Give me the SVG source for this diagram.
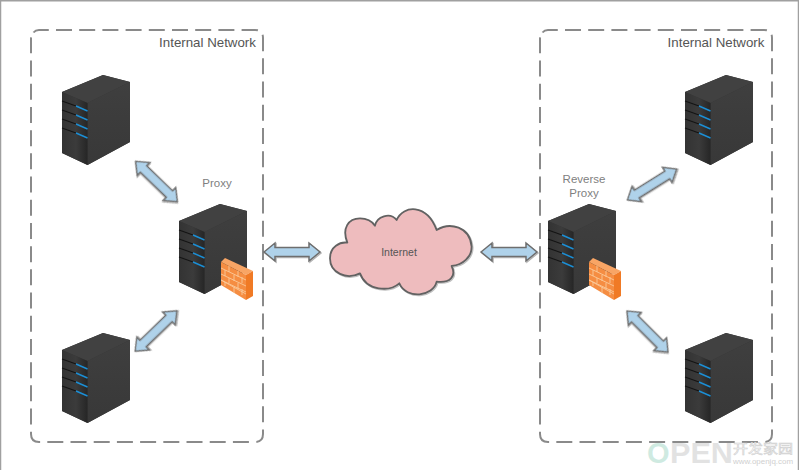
<svg xmlns="http://www.w3.org/2000/svg" width="799" height="470" viewBox="0 0 799 470">
<style>
.frame{fill:none;stroke:#8a8a8a;stroke-width:2;stroke-dasharray:16 7.2}
.t{font-family:"Liberation Sans",Arial,sans-serif;font-size:11.500px;text-anchor:middle}
.net{font-size:13.300px;fill:#555}
.dark{fill:#555;font-size:10.500px}
.grey{fill:#808080}
.arrow{fill:#afd2ea;stroke:#6e6e6e;stroke-width:1.500;filter:url(#shadow)}
.cloud{fill:#eebcbe;stroke:#626262;stroke-width:5.500;stroke-linejoin:round;filter:url(#shadow3)}
.slot{stroke:#141414;stroke-width:1.200}
.led{stroke:#1b8fd6;stroke-width:1.400}
.brick{fill:none;stroke:#fbc99a;stroke-width:.9}
.wm{font-family:"Liberation Sans",Arial,sans-serif;font-weight:700;font-size:29px;fill-opacity:.88}
.wmc{font-family:"Noto Sans CJK SC",sans-serif;font-size:13px;fill:#fff;stroke:#cfcfcf;stroke-width:.6}
.wms{font-family:"Liberation Sans",Arial,sans-serif;font-size:7px;fill:#cfcfcf}
</style>
<defs>
<filter id="shadow" x="-20%" y="-40%" width="140%" height="180%"><feDropShadow dx="1" dy="1" stdDeviation=".6" flood-color="#000" flood-opacity=".3"/></filter>
<filter id="shadow3" x="-10%" y="-10%" width="120%" height="120%"><feDropShadow dx="3" dy="3" stdDeviation="1.500" flood-color="#000" flood-opacity=".25"/></filter>
<linearGradient id="front" x1="0" y1="0" x2="1" y2="0"><stop offset="0" stop-color="#333"/><stop offset=".55" stop-color="#3b3b3b"/><stop offset="1" stop-color="#262626"/></linearGradient>
<linearGradient id="side" x1="0" y1="0" x2="0" y2="1"><stop offset="0" stop-color="#3f3f3f"/><stop offset="1" stop-color="#383838"/></linearGradient>
<g id="server">
<polygon points="0,17 41,0 68,7 68,67 25.500,90 0,78" fill="#333"/>
<polygon points="0,17 41,0 68,7 25.500,28" fill="#414141"/>
<polygon points="25.500,28 68,7 68,67 25.500,90" fill="url(#side)"/>
<polygon points="0,17 25.500,28 25.500,90 0,78" fill="url(#front)"/>
<path class="slot" d="M0 26l14 5M0 35l14 5M0 44l14 5M0 53l14 5"/>
<path class="led" d="M14 31l11.500 5M14 40l11.500 5M14 49l11.500 5M14 58l11.500 5"/>
</g>
<g id="wall">
<polygon points="0,4 4,0 32,13 25,17" fill="#f8a565"/>
<polygon points="25,17 32,13 32,38 25,42" fill="#f07a25"/>
<polygon points="0,4 25,17 25,42 0,27" fill="#f58d42"/>
<path class="brick" d="M0 10l25 12M0 16l25 12M0 22l25 12M25 36l-25-14M8 8v6M17 13v6M4 12v6M13 17v6M21 19v6M8 20v5M17 25v6M4 24v4M13 29v6M21 31v6"/>
</g>
</defs>
<rect width="799" height="470" fill="#fff"/>
<path d="M.5 470V.75H798.500V470" fill="none" stroke="#a0a0a0" stroke-width="1.500"/>
<path class="frame" d="M33.500 32.500Q35.500 30 39 30H255Q263 30 263 38V434Q263 442 255 442H39Q31 442 31 434V38Q31 35 33.500 32.500Z"/>
<path class="frame" d="M542.500 32.500Q544.500 30 548 30H764Q772 30 772 38V434Q772 442 764 442H548Q540 442 540 434V38Q540 35 542.500 32.500Z"/>
<text class="t net" x="207.500" y="47">Internal Network</text>
<text class="t net" x="716" y="47">Internal Network</text>
<g id="connectors">
<polygon class="arrow" transform="translate(156.500 181.500) rotate(44)" points="-29,0 -18,-9 -18,-4.500 18,-4.500 18,-9 29,0 18,9 18,4.500 -18,4.500 -18,9"/>
<polygon class="arrow" transform="translate(156 331) rotate(-44)" points="-29,0 -18,-9 -18,-4.500 18,-4.500 18,-9 29,0 18,9 18,4.500 -18,4.500 -18,9"/>
<polygon class="arrow" transform="translate(292 252)" points="-28,0 -17,-9 -17,-4.500 17,-4.500 17,-9 28,0 17,9 17,4.500 -17,4.500 -17,9"/>
<polygon class="arrow" transform="translate(509 252)" points="-28,0 -17,-9 -17,-4.500 17,-4.500 17,-9 28,0 17,9 17,4.500 -17,4.500 -17,9"/>
<polygon class="arrow" transform="translate(652 184.500) rotate(-32)" points="-29,0 -18,-9 -18,-4.500 18,-4.500 18,-9 29,0 18,9 18,4.500 -18,4.500 -18,9"/>
<polygon class="arrow" transform="translate(647.500 331.500) rotate(45)" points="-29,0 -18,-9 -18,-4.500 18,-4.500 18,-9 29,0 18,9 18,4.500 -18,4.500 -18,9"/>
</g>
<g id="server-top-left"><use href="#server" x="62" y="75"/></g>
<g id="server-bottom-left"><use href="#server" x="62" y="333"/></g>
<g id="proxy"><use href="#server" x="179" y="204"/><use href="#wall" x="221" y="258"/><text class="t grey" x="217" y="187">Proxy</text></g>
<g id="internet">
<path class="cloud" transform="translate(260 190) scale(.3333)" d="M262 158C245 115 265 85 300 85C320 85 335 92 345 107C350 80 390 65 410 90C430 45 500 40 530 120C570 95 630 110 635 170C635 200 610 225 575 228C590 260 570 280 530 275C520 320 440 330 418 280C390 305 320 305 300 250C260 270 210 250 210 205C210 170 240 155 262 158Z"/>
<text class="t dark" x="399" y="256">Internet</text>
</g>
<g id="reverse-proxy"><use href="#server" x="548" y="204"/><use href="#wall" x="589" y="258"/><text class="t grey"><tspan x="584" y="183">Reverse</tspan><tspan x="584" y="197">Proxy</tspan></text></g>
<g id="server-top-right"><use href="#server" x="685" y="75"/></g>
<g id="server-bottom-right"><use href="#server" x="685" y="333"/></g>
<g id="watermark">
<text class="wm" x="647" y="463" fill="#c9e8dd">O</text>
<text class="wm" x="670" y="463" fill="#dedede" textLength="63" lengthAdjust="spacingAndGlyphs">PEN</text>
<text class="wmc" x="733" y="452.500" textLength="60" lengthAdjust="spacingAndGlyphs">开发家园</text>
<text class="wms" x="733" y="463.500" textLength="60" lengthAdjust="spacingAndGlyphs">www.openjq.com</text>
</g>
</svg>
